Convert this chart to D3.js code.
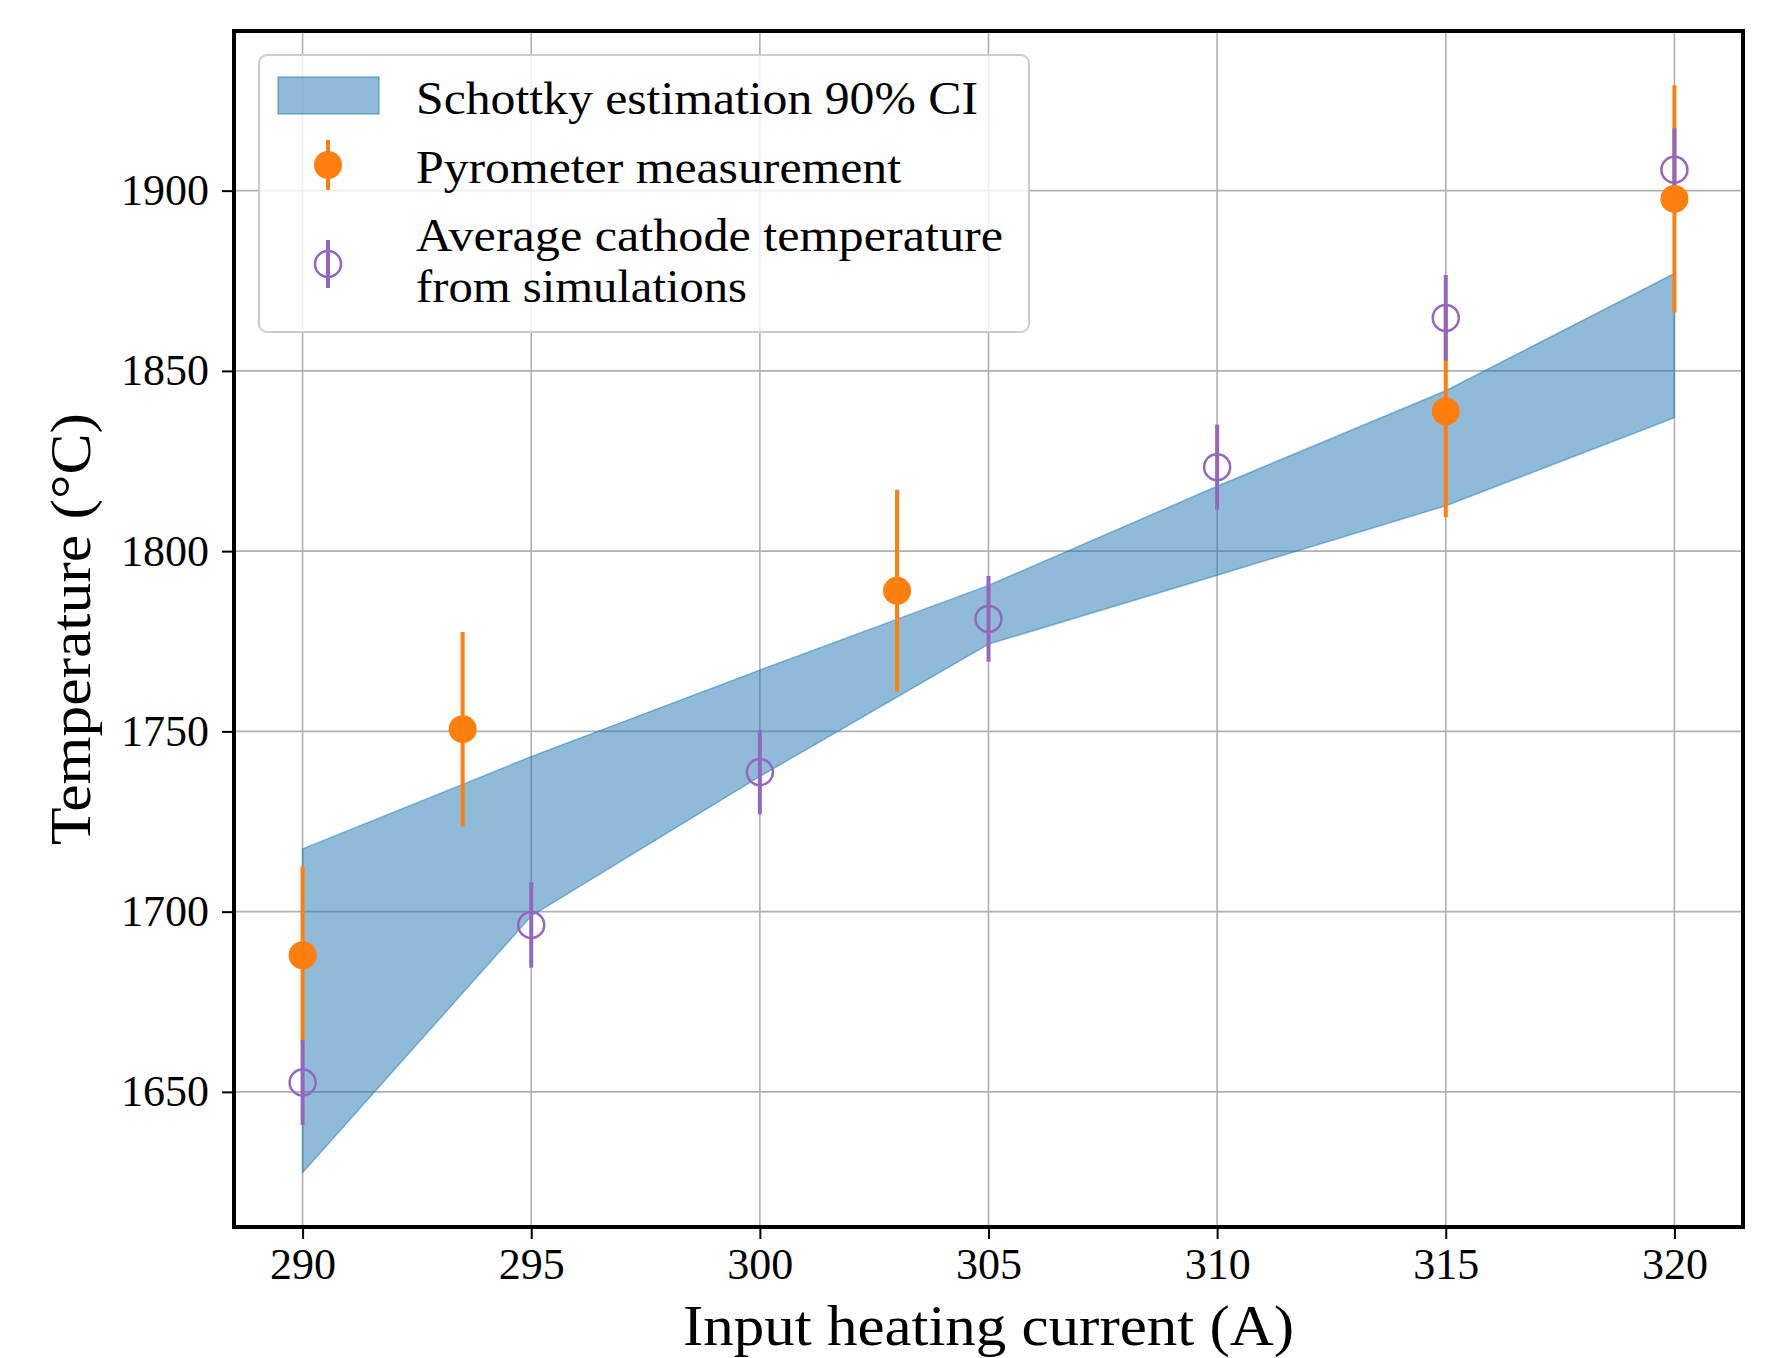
<!DOCTYPE html>
<html>
<head>
<meta charset="utf-8">
<script src="https://cdn.jsdelivr.net/npm/d3@7"></script>
<style>
  body { margin: 0; background: #ffffff; }
  text { font-family: 'Liberation Serif', 'Times New Roman', serif; fill: #000000; }
</style>
</head>
<body>
<div id="diagram"></div>
<script>
// Schottky estimation band (90% CI)
var bandCurrent = [290, 295, 300, 305, 310, 315, 320];
var bandLower = [1627.6, 1698.8, 1737.5, 1774.2, 1793.3, 1812.6, 1837.0];
var bandUpper = [1717.4, 1743.0, 1767.0, 1790.5, 1818.0, 1844.5, 1877.0];

// Pyrometer measurement
var pyroCurrent = [290, 293.5, 303, 315, 320];
var pyroTemp = [1687.9, 1750.6, 1789.0, 1838.8, 1897.7];
var pyroErr = [24.7, 27.0, 28.0, 29.4, 31.5];

// Average cathode temperature from simulations
var simCurrent = [290, 295, 300, 305, 310, 315, 320];
var simTemp = [1652.6, 1696.3, 1738.7, 1781.2, 1823.3, 1864.7, 1905.8];
var simErr = [11.8, 11.8, 11.7, 11.9, 11.8, 11.9, 11.5];

// Ticks
var xTicks = [290, 295, 300, 305, 310, 315, 320];
var yTicks = [1650, 1700, 1750, 1800, 1850, 1900];

var legendLabels = [
  ['Schottky estimation 90% CI'],
  ['Pyrometer measurement'],
  ['Average cathode temperature', 'from simulations']
];

var blue = '#1f77b4';
var orange = '#ff7f0e';
var purple = '#9467bd';

function init() {
  var w = 1781;
  var h = 1358;
  var left = 234;
  var right = 1743;
  var top = 31;
  var bottom = 1227;

  var svg = d3
    .select('#diagram')
    .append('svg')
    .attr('width', w)
    .attr('height', h);

  svg.append('rect').attr('width', w).attr('height', h).attr('fill', '#ffffff');

  // Domains with 5% margins, like matplotlib
  var xMin = d3.min(bandCurrent);
  var xMax = d3.max(bandCurrent);
  var xPad = (xMax - xMin) * 0.05;

  var yMin = d3.min([
    d3.min(bandLower),
    d3.min(pyroTemp.map((d, i) => d - pyroErr[i])),
    d3.min(simTemp.map((d, i) => d - simErr[i]))
  ]);
  var yMax = d3.max([
    d3.max(bandUpper),
    d3.max(pyroTemp.map((d, i) => d + pyroErr[i])),
    d3.max(simTemp.map((d, i) => d + simErr[i]))
  ]);
  var yPad = (yMax - yMin) * 0.05;

  var xScale = d3
    .scaleLinear()
    .domain([xMin - xPad, xMax + xPad])
    .range([left, right]);

  var yScale = d3
    .scaleLinear()
    .domain([yMin - yPad, yMax + yPad])
    .range([bottom, top]);

  // Grid
  var grid = svg.append('g');
  grid
    .selectAll('.vgrid')
    .data(xTicks)
    .enter()
    .append('line')
    .attr('x1', (d) => xScale(d))
    .attr('x2', (d) => xScale(d))
    .attr('y1', top)
    .attr('y2', bottom)
    .attr('stroke', '#b0b0b0')
    .attr('stroke-width', 1.6);
  grid
    .selectAll('.hgrid')
    .data(yTicks)
    .enter()
    .append('line')
    .attr('x1', left)
    .attr('x2', right)
    .attr('y1', (d) => yScale(d))
    .attr('y2', (d) => yScale(d))
    .attr('stroke', '#b0b0b0')
    .attr('stroke-width', 1.6);

  // Band
  var bandData = bandCurrent.map((c, i) => [c, bandLower[i], bandUpper[i]]);
  var area = d3
    .area()
    .x((d) => xScale(d[0]))
    .y0((d) => yScale(d[1]))
    .y1((d) => yScale(d[2]));

  svg
    .append('path')
    .datum(bandData)
    .attr('d', area)
    .attr('fill', blue)
    .attr('fill-opacity', 0.5)
    .attr('stroke', blue)
    .attr('stroke-opacity', 0.5)
    .attr('stroke-width', 1.5);

  var pyroData = pyroCurrent.map((c, i) => [c, pyroTemp[i], pyroErr[i]]);
  var simData = simCurrent.map((c, i) => [c, simTemp[i], simErr[i]]);

  // Error bars (below markers)
  drawBars(svg, pyroData, orange, xScale, yScale);
  drawBars(svg, simData, purple, xScale, yScale);

  // Markers
  svg
    .append('g')
    .selectAll('circle')
    .data(pyroData)
    .enter()
    .append('circle')
    .attr('cx', (d) => xScale(d[0]))
    .attr('cy', (d) => yScale(d[1]))
    .attr('r', 14)
    .attr('fill', orange);

  svg
    .append('g')
    .selectAll('circle')
    .data(simData)
    .enter()
    .append('circle')
    .attr('cx', (d) => xScale(d[0]))
    .attr('cy', (d) => yScale(d[1]))
    .attr('r', 13)
    .attr('fill', 'none')
    .attr('stroke', purple)
    .attr('stroke-width', 2.5);

  // Axes frame
  svg
    .append('rect')
    .attr('x', left)
    .attr('y', top)
    .attr('width', right - left)
    .attr('height', bottom - top)
    .attr('fill', 'none')
    .attr('stroke', '#000000')
    .attr('stroke-width', 4);

  // X axis
  var xAxis = d3
    .axisBottom(xScale)
    .tickValues(xTicks)
    .tickSizeInner(10)
    .tickSizeOuter(0)
    .tickPadding(9)
    .tickFormat(d3.format('d'));
  var gx = svg
    .append('g')
    .attr('transform', `translate(0, ${bottom + 2})`)
    .call(xAxis);
  gx.select('.domain').remove();
  gx.selectAll('line').attr('stroke', '#000000').attr('stroke-width', 2);
  gx.selectAll('text')
    .attr('font-family', 'Liberation Serif')
    .attr('font-size', 44)
    .attr('fill', '#000000');

  // Y axis
  var yAxis = d3
    .axisLeft(yScale)
    .tickValues(yTicks)
    .tickSizeInner(10)
    .tickSizeOuter(0)
    .tickPadding(13)
    .tickFormat(d3.format('d'));
  var gy = svg
    .append('g')
    .attr('transform', `translate(${left - 2}, 0)`)
    .call(yAxis);
  gy.select('.domain').remove();
  gy.selectAll('line').attr('stroke', '#000000').attr('stroke-width', 2);
  gy.selectAll('text')
    .attr('font-family', 'Liberation Serif')
    .attr('font-size', 44)
    .attr('fill', '#000000');

  // Axis labels
  svg
    .append('text')
    .attr('x', (left + right) / 2)
    .attr('y', 1345)
    .attr('text-anchor', 'middle')
    .attr('font-size', 56)
    .attr('textLength', 611)
    .attr('lengthAdjust', 'spacingAndGlyphs')
    .text('Input heating current (A)');

  svg
    .append('text')
    .attr('transform', `translate(90, ${(top + bottom) / 2}) rotate(-90)`)
    .attr('text-anchor', 'middle')
    .attr('font-size', 57)
    .attr('textLength', 432)
    .attr('lengthAdjust', 'spacingAndGlyphs')
    .text('Temperature (°C)');

  // Legend
  var legend = svg.append('g');
  legend
    .append('rect')
    .attr('x', 259)
    .attr('y', 55)
    .attr('width', 770)
    .attr('height', 277)
    .attr('rx', 8)
    .attr('fill', '#ffffff')
    .attr('fill-opacity', 0.8)
    .attr('stroke', '#cccccc')
    .attr('stroke-width', 2);

  legend
    .append('rect')
    .attr('x', 278)
    .attr('y', 77)
    .attr('width', 101)
    .attr('height', 37)
    .attr('fill', blue)
    .attr('fill-opacity', 0.5)
    .attr('stroke', blue)
    .attr('stroke-opacity', 0.5)
    .attr('stroke-width', 1.5);

  legend
    .append('line')
    .attr('x1', 328)
    .attr('x2', 328)
    .attr('y1', 140)
    .attr('y2', 190)
    .attr('stroke', orange)
    .attr('stroke-width', 4);
  legend
    .append('circle')
    .attr('cx', 328)
    .attr('cy', 165)
    .attr('r', 14)
    .attr('fill', orange);

  legend
    .append('line')
    .attr('x1', 328)
    .attr('x2', 328)
    .attr('y1', 240)
    .attr('y2', 288)
    .attr('stroke', purple)
    .attr('stroke-width', 4);
  legend
    .append('circle')
    .attr('cx', 328)
    .attr('cy', 264)
    .attr('r', 13)
    .attr('fill', 'none')
    .attr('stroke', purple)
    .attr('stroke-width', 2.5);

  // Legend text, widths matched to the reference
  var labelY = [114, 183, 251];
  var labelWidths = [[562], [485], [587, 331]];
  legendLabels.forEach((lines, i) => {
    lines.forEach((t, j) => {
      legend
        .append('text')
        .attr('x', 416)
        .attr('y', labelY[i] + j * 51)
        .attr('font-size', 45.5)
        .attr('textLength', labelWidths[i][j])
        .attr('lengthAdjust', 'spacingAndGlyphs')
        .text(t);
    });
  });
}

function drawBars(svg, data, color, xScale, yScale) {
  svg
    .append('g')
    .selectAll('line')
    .data(data)
    .enter()
    .append('line')
    .attr('x1', (d) => xScale(d[0]))
    .attr('x2', (d) => xScale(d[0]))
    .attr('y1', (d) => yScale(d[1] - d[2]))
    .attr('y2', (d) => yScale(d[1] + d[2]))
    .attr('stroke', color)
    .attr('stroke-width', 4);
}

window.onload = init;
</script>
</body>
</html>
